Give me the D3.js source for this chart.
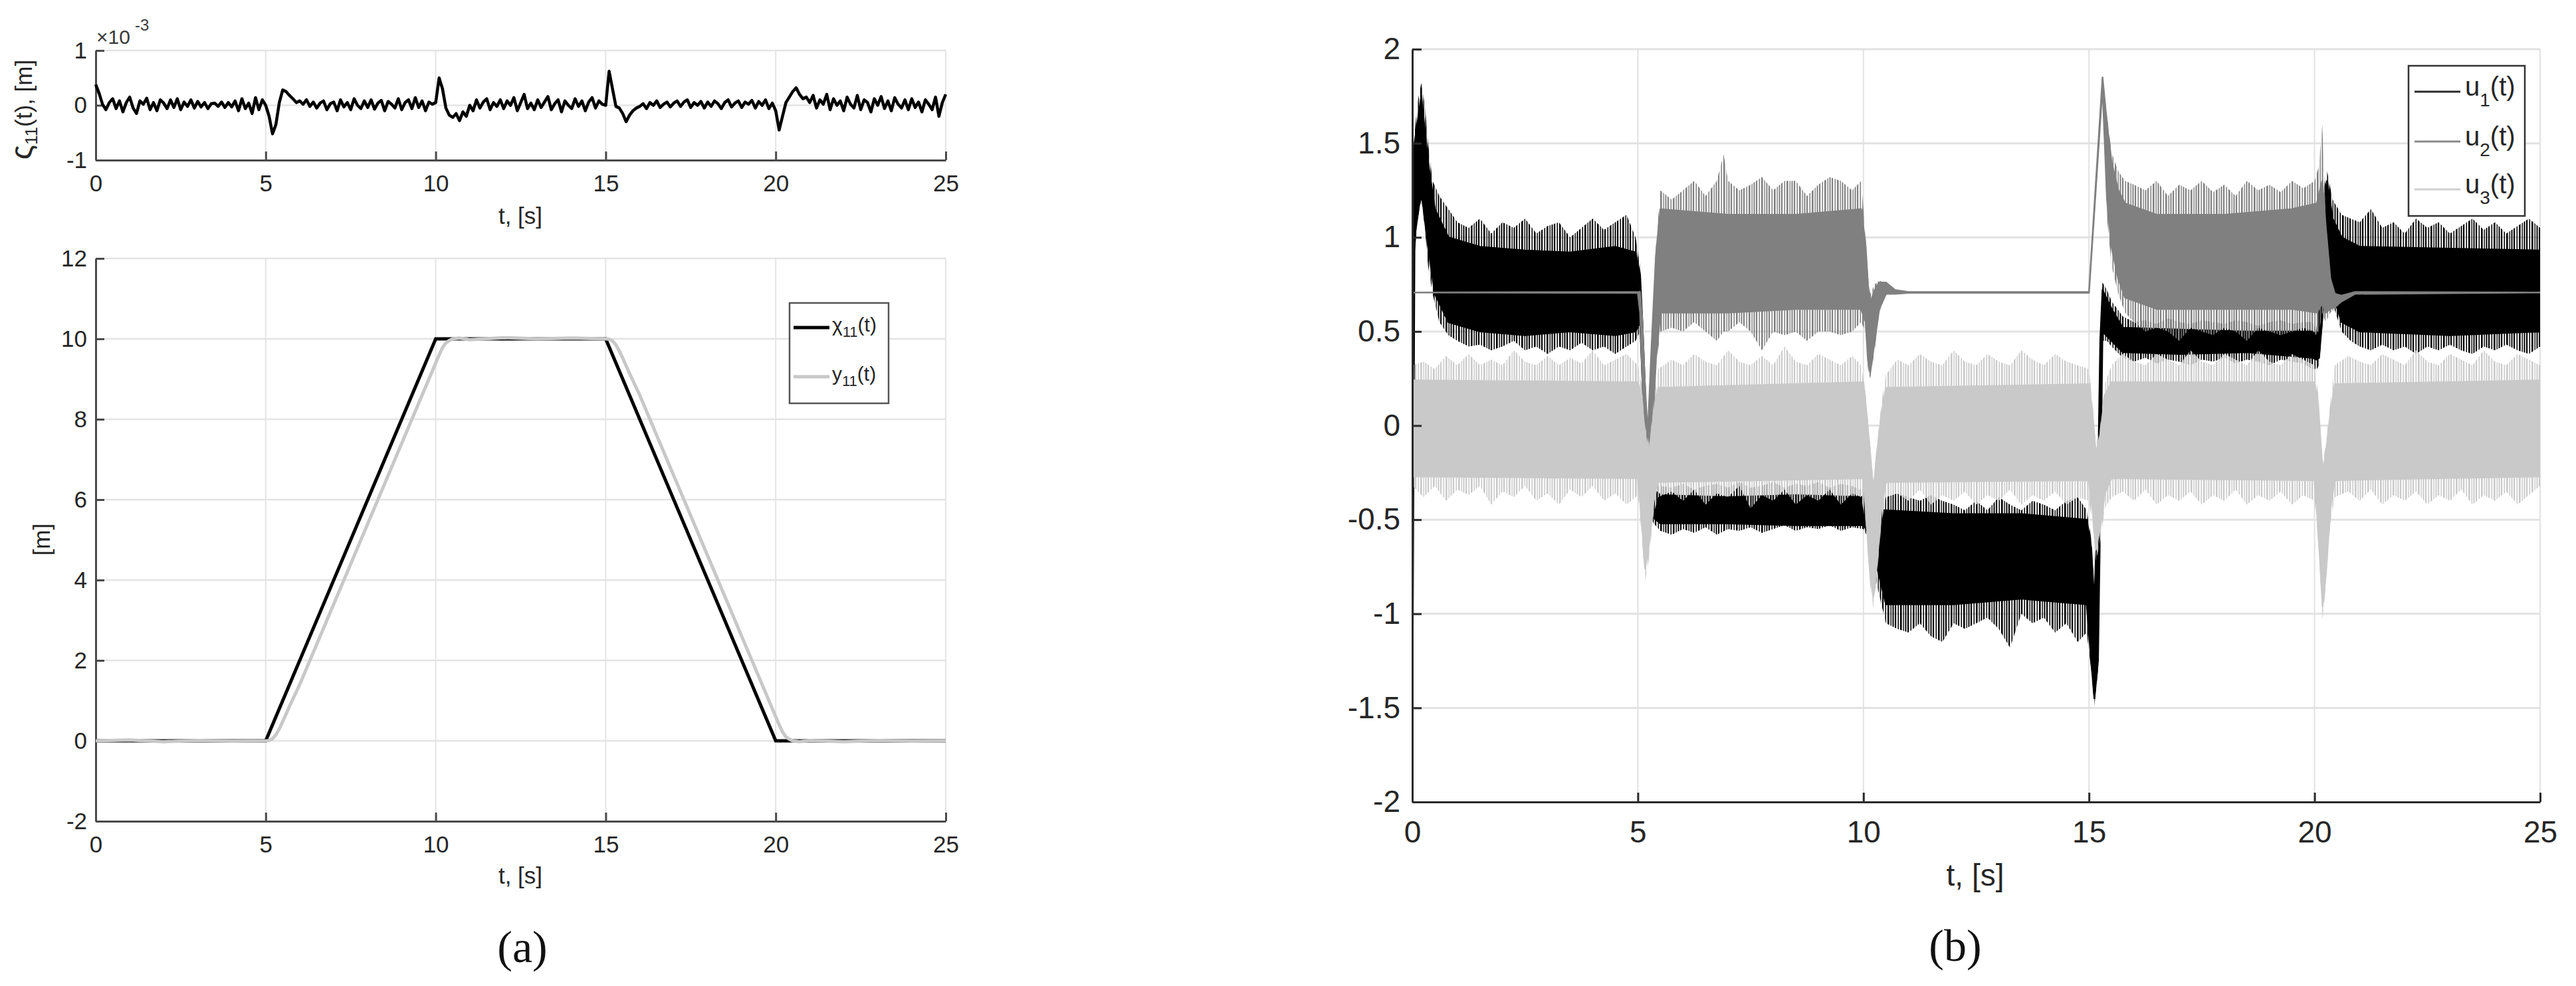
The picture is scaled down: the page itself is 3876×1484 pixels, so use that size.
<!DOCTYPE html>
<html><head><meta charset="utf-8">
<script src="https://cdn.jsdelivr.net/npm/d3@7"></script>
<style>body{margin:0;background:#fff}svg{display:block}</style>
</head><body>
<svg id="c" width="3876" height="1484"></svg>
<script>
// ---------------- DATA ----------------
const timeTicks = [0, 5, 10, 15, 20, 25];
const sigmaTicks = [-1, 0, 1];
const posTicks = [-2, 0, 2, 4, 6, 8, 10, 12];
const uTicks = [-2, -1.5, -1, -0.5, 0, 0.5, 1, 1.5, 2];

// sigma_11(t) in units of 1e-3 m, sampled every 0.1 s from t = 0 to 25
const sigmaStep = 0.1;
const sigmaV = [
 0.38,0.22,0.02,-0.08,0.05,0.12,-0.06,0.08,-0.12,0.05,
 0.15,-0.05,-0.15,0.08,0.02,0.13,-0.08,0.05,-0.1,0.1,
 0.04,-0.06,0.1,-0.04,0.12,-0.08,0.06,-0.02,0.1,-0.05,
 0.07,-0.03,0.05,-0.06,0.03,0.04,-0.02,0.06,-0.04,0.05,
 -0.03,0.08,-0.1,0.12,-0.06,0.04,-0.15,0.14,-0.08,0.1,
 0.0,-0.2,-0.52,-0.35,0.05,0.28,0.25,0.18,0.12,0.05,
 0.08,0.02,0.1,-0.02,0.06,-0.05,0.04,0.08,-0.08,0.03,
 0.06,-0.1,0.1,-0.03,0.05,-0.08,0.12,0.0,-0.06,0.08,
 -0.04,0.1,-0.07,0.04,0.09,-0.1,0.07,0.02,-0.05,0.12,
 -0.08,0.05,0.1,-0.06,0.14,-0.04,0.08,-0.1,0.06,0.02,
 0.05,0.5,0.3,-0.05,-0.18,-0.22,-0.15,-0.28,-0.12,-0.2,
 0.0,-0.1,0.1,-0.05,0.06,0.12,-0.08,0.05,-0.02,0.1,
 -0.06,0.08,0.0,0.14,-0.1,0.05,0.2,-0.06,0.04,-0.08,
 0.1,-0.04,0.06,0.16,-0.08,0.03,0.1,-0.12,0.08,0.0,
 -0.06,0.12,-0.02,0.08,-0.1,0.06,0.14,-0.05,0.08,0.02,
 0.0,0.62,0.3,-0.02,-0.05,-0.15,-0.3,-0.18,-0.1,-0.05,
 -0.02,0.03,-0.06,0.05,0.0,0.08,-0.04,0.02,0.06,-0.03,
 0.04,0.08,-0.02,0.06,0.1,-0.04,0.05,0.0,0.07,-0.05,
 0.06,-0.02,0.08,0.03,-0.06,0.05,0.1,-0.03,0.04,0.08,
 -0.04,0.06,0.02,0.09,-0.05,0.07,0.0,0.1,-0.06,0.04,
 -0.1,-0.45,-0.2,0.05,0.15,0.25,0.32,0.2,0.12,0.15,
 0.05,0.18,-0.05,0.1,0.02,0.2,-0.08,0.12,0.0,0.08,
 -0.1,0.15,0.02,-0.05,0.18,-0.08,0.1,0.05,-0.12,0.12,
 0.0,0.16,-0.06,0.08,-0.1,0.14,0.02,-0.05,0.1,-0.08,
 0.12,-0.04,0.06,-0.12,0.1,0.02,-0.08,0.15,-0.2,0.05,
 0.2
];

// chi_11(t) reference and y_11(t) output, [m]
const chiT = [0, 5, 10, 15, 20, 25];
const chiV = [0, 0, 10, 10, 0, 0];
const y11T = [0,1,2,3,4,5,5.1,5.2,5.3,5.4,5.5,5.7,6,7,8,9,10,10.1,10.2,10.3,10.4,10.5,10.7,11,12,13,14,15,15.1,15.2,15.3,15.4,15.5,15.7,16,17,18,19,20,20.1,20.2,20.3,20.4,20.5,20.7,21,22,23,24,25];
const y11V = [0,0.02,-0.02,0.01,-0.01,0,0.01,0.05,0.15,0.3,0.48,0.86,1.4,3.4,5.4,7.4,9.4,9.6,9.78,9.9,9.96,10.0,10.02,9.98,10.03,10.0,10.02,10.0,9.99,9.95,9.85,9.7,9.52,9.14,8.6,6.6,4.6,2.6,0.6,0.4,0.22,0.1,0.04,0.0,-0.02,0.01,-0.02,0.01,-0.01,0];

// control signals: [t, lowest spike, highest spike] of each noisy band
const u1Band = [
 [0,-1.66,-1.5],[0.015,-1.0,1.25],[0.05,0.9,1.55],[0.12,1.1,1.72],[0.2,1.2,1.82],[0.28,1.05,1.7],[0.35,0.85,1.5],[0.45,0.7,1.3],[0.6,0.55,1.22],[0.8,0.48,1.15],
 [1.0,0.45,1.08],[1.25,0.42,1.05],[1.5,0.43,1.1],[1.75,0.40,1.02],[2.0,0.42,1.08],[2.25,0.45,1.05],[2.5,0.40,1.1],[2.75,0.42,1.02],[3.0,0.38,1.06],[3.25,0.42,1.08],
 [3.5,0.40,1.0],[3.75,0.44,1.05],[4.0,0.40,1.1],[4.25,0.42,1.04],[4.5,0.38,1.08],[4.75,0.42,1.12],[4.95,0.45,1.0],[5.05,0.5,0.85],[5.1,0.2,0.6],[5.15,-0.1,0.3],
 [5.2,-0.4,-0.05],[5.25,-0.45,-0.2],[5.35,-0.52,-0.3],[5.5,-0.56,-0.32],[5.75,-0.58,-0.33],[6.0,-0.55,-0.31],[6.25,-0.57,-0.34],[6.5,-0.54,-0.32],[6.75,-0.58,-0.31],[7.0,-0.55,-0.33],
 [7.25,-0.56,-0.3],[7.5,-0.54,-0.33],[7.75,-0.57,-0.32],[8.0,-0.55,-0.3],[8.25,-0.53,-0.33],[8.5,-0.56,-0.31],[8.75,-0.54,-0.32],[9.0,-0.55,-0.3],[9.25,-0.53,-0.33],[9.5,-0.56,-0.31],
 [9.75,-0.54,-0.32],[10.0,-0.55,-0.35],[10.15,-0.62,-0.38],[10.3,-0.85,-0.4],[10.5,-1.05,-0.38],[10.75,-1.08,-0.36],[11.0,-1.1,-0.38],[11.25,-1.05,-0.4],[11.5,-1.12,-0.37],[11.75,-1.15,-0.4],
 [12.0,-1.05,-0.42],[12.25,-1.08,-0.45],[12.5,-1.05,-0.4],[12.75,-1.02,-0.45],[13.0,-1.08,-0.38],[13.25,-1.18,-0.42],[13.5,-1.0,-0.45],[13.75,-1.05,-0.4],[14.0,-1.02,-0.42],[14.25,-1.1,-0.45],
 [14.5,-1.05,-0.4],[14.75,-1.15,-0.38],[14.95,-1.1,-0.45],[15.05,-1.3,-0.6],[15.12,-1.49,-0.9],[15.2,-1.3,-0.2],[15.25,-0.5,0.5],[15.3,0.45,0.76],[15.4,0.45,0.72],[15.5,0.42,0.66],
 [15.75,0.36,0.58],[16.0,0.34,0.55],[16.25,0.36,0.56],[16.5,0.33,0.54],[16.75,0.35,0.57],[17.0,0.34,0.55],[17.25,0.32,0.54],[17.5,0.35,0.56],[17.75,0.34,0.55],[18.0,0.36,0.54],
 [18.25,0.33,0.56],[18.5,0.35,0.55],[18.75,0.34,0.53],[19.0,0.32,0.55],[19.25,0.35,0.56],[19.5,0.34,0.54],[19.75,0.33,0.55],[19.95,0.3,0.55],[20.05,0.3,0.5],[20.1,0.32,0.7],
 [20.2,0.6,1.25],[20.28,0.75,1.35],[20.4,0.65,1.2],[20.6,0.5,1.12],[20.8,0.45,1.1],[21.0,0.42,1.08],[21.25,0.4,1.15],[21.5,0.43,1.05],[21.75,0.4,1.08],[22.0,0.42,1.02],
 [22.25,0.38,1.1],[22.5,0.42,1.05],[22.75,0.4,1.08],[23.0,0.43,1.02],[23.25,0.4,1.06],[23.5,0.38,1.1],[23.75,0.42,1.04],[24.0,0.4,1.08],[24.25,0.43,1.02],[24.5,0.4,1.06],
 [24.75,0.38,1.1],[25.0,0.42,1.05]
];
// dense core of u1: [t, lower, upper]
const u1Core = [
 [0,-1.6,-1.5],[0.015,-0.9,1.2],[0.05,1.0,1.5],[0.2,1.25,1.75],[0.35,0.95,1.4],[0.5,0.7,1.15],[0.8,0.55,1.0],[1.5,0.5,0.95],[2.5,0.48,0.93],[3.5,0.5,0.92],
 [4.5,0.48,0.95],[4.95,0.5,0.92],[5.05,0.55,0.8],[5.1,0.25,0.55],[5.15,-0.05,0.25],[5.2,-0.35,-0.1],[5.3,-0.48,-0.33],[5.5,-0.52,-0.37],[7,-0.52,-0.38],[8.5,-0.53,-0.37],
 [10,-0.53,-0.38],[10.15,-0.58,-0.4],[10.3,-0.75,-0.45],[10.5,-0.95,-0.45],[12,-0.95,-0.47],[13.5,-0.92,-0.47],[14.95,-0.95,-0.5],[15.05,-1.25,-0.65],[15.12,-1.45,-0.95],[15.2,-1.25,-0.3],
 [15.25,-0.45,0.45],[15.3,0.5,0.72],[15.5,0.45,0.62],[15.75,0.39,0.52],[17,0.38,0.51],[18.5,0.39,0.5],[19.95,0.36,0.5],[20.05,0.35,0.47],[20.1,0.36,0.65],[20.2,0.65,1.2],
 [20.28,0.8,1.3],[20.4,0.7,1.1],[20.6,0.55,1.0],[21,0.5,0.95],[23,0.48,0.94],[25,0.5,0.93]
];
const u2Band = [
 [0,0.707,0.707],[5.0,0.70,0.71],[5.05,0.55,0.72],[5.1,0.2,0.6],[5.15,-0.2,0.3],[5.22,-0.36,0.0],[5.3,-0.2,0.45],[5.4,0.3,0.95],[5.5,0.5,1.25],[5.75,0.52,1.2],
 [6.0,0.5,1.25],[6.25,0.55,1.3],[6.5,0.5,1.22],[6.75,0.45,1.3],[6.9,0.5,1.44],[7.0,0.5,1.3],[7.25,0.55,1.25],[7.5,0.5,1.28],[7.75,0.4,1.32],[8.0,0.5,1.25],
 [8.25,0.48,1.3],[8.5,0.5,1.3],[8.75,0.45,1.22],[9.0,0.5,1.28],[9.25,0.5,1.32],[9.5,0.48,1.3],[9.75,0.5,1.25],[9.95,0.55,1.3],[10.05,0.5,1.0],[10.1,0.3,0.8],
 [10.15,0.25,0.7],[10.25,0.4,0.75],[10.35,0.6,0.77],[10.5,0.7,0.76],[10.7,0.7,0.72],[11.0,0.705,0.71],[15.0,0.705,0.71],[15.3,1.8,1.85],[15.4,1.1,1.65],[15.5,0.85,1.45],
 [15.65,0.7,1.35],[15.8,0.6,1.3],[16.0,0.55,1.28],[16.25,0.5,1.25],[16.5,0.52,1.3],[16.75,0.5,1.22],[17.0,0.45,1.28],[17.25,0.52,1.25],[17.5,0.5,1.3],[17.75,0.48,1.24],
 [18.0,0.52,1.28],[18.25,0.5,1.22],[18.5,0.45,1.3],[18.75,0.52,1.25],[19.0,0.5,1.28],[19.25,0.48,1.24],[19.5,0.5,1.3],[19.75,0.52,1.26],[20.0,0.5,1.3],[20.1,0.5,1.38],
 [20.17,0.6,1.6],[20.25,0.55,1.1],[20.35,0.6,0.8],[20.45,0.62,0.7],[20.6,0.66,0.69],[20.9,0.7,0.71],[25.0,0.707,0.707]
];
const u2Core = [
 [0,0.707,0.707],[5.0,0.705,0.71],[5.05,0.6,0.71],[5.1,0.25,0.55],[5.15,-0.15,0.25],[5.22,-0.3,-0.05],[5.3,-0.15,0.4],[5.4,0.35,0.9],[5.5,0.6,1.15],[7,0.6,1.12],
 [8.5,0.62,1.12],[9.95,0.62,1.15],[10.05,0.55,0.95],[10.1,0.35,0.75],[10.15,0.28,0.65],[10.25,0.45,0.72],[10.35,0.62,0.76],[10.5,0.7,0.76],[10.7,0.7,0.72],[11,0.705,0.71],
 [15,0.705,0.71],[15.3,1.8,1.85],[15.4,1.2,1.6],[15.5,0.95,1.4],[15.65,0.78,1.25],[15.8,0.68,1.18],[16.5,0.62,1.12],[18,0.62,1.12],[19.5,0.62,1.15],[20.05,0.6,1.18],
 [20.17,0.65,1.3],[20.25,0.6,1.05],[20.35,0.62,0.78],[20.45,0.63,0.7],[20.6,0.66,0.69],[20.9,0.7,0.71],[25,0.707,0.707]
];
const u3Band = [
 [0,-0.32,0.32],[0.25,-0.38,0.34],[0.5,-0.32,0.3],[0.75,-0.4,0.37],[1.0,-0.34,0.32],[1.25,-0.37,0.38],[1.5,-0.32,0.32],[1.75,-0.42,0.35],[2.0,-0.35,0.32],[2.25,-0.38,0.4],
 [2.5,-0.32,0.34],[2.75,-0.4,0.32],[3.0,-0.36,0.37],[3.25,-0.42,0.32],[3.5,-0.34,0.36],[3.75,-0.38,0.33],[4.0,-0.32,0.4],[4.25,-0.4,0.32],[4.5,-0.36,0.35],[4.75,-0.42,0.38],
 [5.0,-0.37,0.32],[5.08,-0.57,0.22],[5.16,-0.83,0.0],[5.25,-0.7,-0.1],[5.35,-0.47,0.12],[5.45,-0.38,0.3],[5.75,-0.35,0.35],[6.0,-0.4,0.32],[6.25,-0.34,0.38],[6.5,-0.42,0.34],
 [6.75,-0.36,0.32],[7.0,-0.38,0.4],[7.25,-0.32,0.34],[7.5,-0.44,0.32],[7.75,-0.37,0.37],[8.0,-0.4,0.32],[8.25,-0.34,0.42],[8.5,-0.42,0.34],[8.75,-0.37,0.32],[9.0,-0.4,0.38],
 [9.25,-0.34,0.35],[9.5,-0.42,0.32],[9.75,-0.36,0.37],[9.95,-0.38,0.32],[10.05,-0.52,0.17],[10.15,-0.85,-0.1],[10.22,-0.97,-0.3],[10.3,-0.8,-0.1],[10.4,-0.52,0.12],[10.5,-0.38,0.27],
 [10.75,-0.36,0.35],[11.0,-0.4,0.32],[11.25,-0.34,0.38],[11.5,-0.42,0.34],[11.75,-0.37,0.32],[12.0,-0.4,0.4],[12.25,-0.35,0.34],[12.5,-0.42,0.32],[12.75,-0.37,0.38],[13.0,-0.4,0.34],
 [13.25,-0.34,0.32],[13.5,-0.42,0.4],[13.75,-0.37,0.35],[14.0,-0.4,0.32],[14.25,-0.35,0.38],[14.5,-0.42,0.34],[14.75,-0.38,0.32],[15.0,-0.4,0.3],[15.08,-0.52,0.12],[15.15,-0.72,-0.1],
 [15.25,-0.62,0.0],[15.35,-0.44,0.22],[15.5,-0.38,0.32],[15.75,-0.35,0.38],[16.0,-0.4,0.34],[16.25,-0.34,0.32],[16.5,-0.42,0.38],[16.75,-0.37,0.35],[17.0,-0.4,0.32],[17.25,-0.35,0.4],
 [17.5,-0.42,0.34],[17.75,-0.37,0.32],[18.0,-0.4,0.38],[18.25,-0.34,0.35],[18.5,-0.42,0.32],[18.75,-0.37,0.4],[19.0,-0.4,0.34],[19.25,-0.35,0.32],[19.5,-0.42,0.38],[19.75,-0.37,0.35],
 [20.0,-0.4,0.32],[20.08,-0.62,0.17],[20.18,-1.03,-0.2],[20.25,-0.85,-0.1],[20.35,-0.52,0.12],[20.45,-0.38,0.32],[20.75,-0.35,0.37],[21.0,-0.4,0.34],[21.25,-0.34,0.32],[21.5,-0.42,0.38],
 [21.75,-0.37,0.35],[22.0,-0.4,0.32],[22.25,-0.35,0.4],[22.5,-0.42,0.34],[22.75,-0.37,0.32],[23.0,-0.4,0.38],[23.25,-0.34,0.35],[23.5,-0.42,0.32],[23.75,-0.37,0.4],[24.0,-0.4,0.34],
 [24.25,-0.35,0.32],[24.5,-0.42,0.38],[24.75,-0.37,0.35],[25.0,-0.32,0.32]
];
const u3Core = [
 [0,-0.27,0.24],[5.0,-0.28,0.23],[5.08,-0.48,0.14],[5.16,-0.76,-0.05],[5.25,-0.62,-0.15],[5.35,-0.4,0.06],[5.45,-0.3,0.2],[10,-0.28,0.23],[10.05,-0.44,0.11],[10.15,-0.79,-0.15],
 [10.22,-0.91,-0.35],[10.3,-0.73,-0.15],[10.4,-0.44,0.06],[10.5,-0.3,0.2],[15,-0.29,0.22],[15.08,-0.44,0.06],[15.15,-0.66,-0.15],[15.25,-0.54,-0.05],[15.35,-0.36,0.16],[15.5,-0.28,0.23],
 [20,-0.29,0.23],[20.08,-0.54,0.11],[20.18,-0.96,-0.25],[20.25,-0.79,-0.15],[20.35,-0.44,0.06],[20.45,-0.29,0.22],[25,-0.27,0.24]
];
const uSeries = [
  {name: "1", band: u1Band, core: u1Core, color: "#000000", legend: "#2b2b2b"},
  {name: "2", band: u2Band, core: u2Core, color: "#808080", legend: "#8a8a8a"},
  {name: "3", band: u3Band, core: u3Core, color: "#c9c9c9", legend: "#cfcfcf"}
];

// ---------------- DRAWING ----------------
const FONT = "'Liberation Sans', Arial, Helvetica, sans-serif";
const SERIF = "'Liberation Serif', 'DejaVu Serif', serif";
const svg = d3.select("#c");
svg.append("rect").attr("width", 3876).attr("height", 1484).attr("fill", "#fff");
const defs = svg.append("defs");

function drawGrid(g, x, y, xt, yt, o) {
  const [y0, y1] = y.range(), [x0, x1] = x.range();
  g.append("g").selectAll("line").data(xt.filter(d => d !== x.domain()[0])).join("line")
    .attr("x1", d => x(d)).attr("x2", d => x(d)).attr("y1", y0).attr("y2", y1)
    .attr("stroke", o.gridColor).attr("stroke-width", o.gridWV);
  g.append("g").selectAll("line").data(yt.filter(d => d !== y.domain()[0])).join("line")
    .attr("x1", x0).attr("x2", x1).attr("y1", d => y(d)).attr("y2", d => y(d))
    .attr("stroke", o.gridColor).attr("stroke-width", o.gridWH);
}

function drawAxes(g, x, y, xt, yt, o) {
  const xa = d3.axisBottom(x).tickValues(xt).tickSizeInner(-o.tick).tickSizeOuter(0)
    .tickPadding(o.padX).tickFormat(d => String(d));
  const ya = d3.axisLeft(y).tickValues(yt).tickSizeInner(-o.tick).tickSizeOuter(0)
    .tickPadding(o.padY).tickFormat(d => String(d));
  const gx = g.append("g").attr("transform", `translate(0,${y.range()[0]})`).call(xa);
  const gy = g.append("g").attr("transform", `translate(${x.range()[0]},0)`).call(ya);
  [gx, gy].forEach(a => {
    a.select(".domain").attr("stroke", o.axisColor).attr("stroke-width", o.axisW);
    a.selectAll(".tick line").attr("stroke", o.axisColor).attr("stroke-width", o.axisW);
    a.selectAll(".tick text").attr("font-size", o.fs).attr("fill", "#262626")
      .attr("font-family", FONT);
  });
}

// ---------- Panel (a), top: sigma_11 ----------
const xA = d3.scaleLinear().domain([0, 25]).range([144, 1423]);
const yS = d3.scaleLinear().domain([-1, 1]).range([241, 76]);
const gS = svg.append("g");
const optA = {gridColor: "#e4e4e4", gridWV: 2, gridWH: 2.5, axisColor: "#4a4a4a", axisW: 3, tick: 13, fs: 35, padX: 22, padY: 13};
drawGrid(gS, xA, yS, timeTicks, sigmaTicks, optA);
drawAxes(gS, xA, yS, timeTicks, sigmaTicks, optA);
const sigmaData = sigmaV.map((v, i) => ({t: i * sigmaStep, v}));
gS.append("path").datum(sigmaData)
  .attr("d", d3.line().x(d => xA(d.t)).y(d => yS(d.v)))
  .attr("fill", "none").attr("stroke", "#000").attr("stroke-width", 4.5)
  .attr("stroke-linejoin", "round");
gS.append("text").attr("x", 145).attr("y", 66).attr("font-family", FONT)
  .attr("font-size", 30).attr("fill", "#3a3a3a").text("×10");
gS.append("text").attr("x", 203).attr("y", 46).attr("font-family", FONT)
  .attr("font-size", 24).attr("fill", "#3a3a3a").text("-3");
gS.append("text").attr("x", 783).attr("y", 337).attr("text-anchor", "middle")
  .attr("font-family", FONT).attr("font-size", 35).attr("fill", "#262626").text("t, [s]");
const sLab = gS.append("text").attr("transform", "translate(48,165) rotate(-90)")
  .attr("text-anchor", "middle").attr("font-family", FONT).attr("font-size", 35).attr("fill", "#262626");
sLab.append("tspan").attr("font-size", 46).text("ς");
sLab.append("tspan").attr("font-size", 26).attr("dy", 8).text("11");
sLab.append("tspan").attr("dy", -8).text("(t), [m]");

// ---------- Panel (a), bottom: chi_11 and y_11 ----------
const yP = d3.scaleLinear().domain([-2, 12]).range([1236, 389]);
const gP = svg.append("g");
drawGrid(gP, xA, yP, timeTicks, posTicks, optA);
drawAxes(gP, xA, yP, timeTicks, posTicks, optA);
const lineP = d3.line().x(d => xA(d[0])).y(d => yP(d[1]));
gP.append("path").datum(chiT.map((t, i) => [t, chiV[i]])).attr("d", lineP)
  .attr("fill", "none").attr("stroke", "#000").attr("stroke-width", 5);
gP.append("path").datum(y11T.map((t, i) => [t, y11V[i]])).attr("d", lineP)
  .attr("fill", "none").attr("stroke", "#c8c8c8").attr("stroke-width", 5);
gP.append("text").attr("x", 783).attr("y", 1330).attr("text-anchor", "middle")
  .attr("font-family", FONT).attr("font-size", 35).attr("fill", "#262626").text("t, [s]");
gP.append("text").attr("transform", "translate(75,812) rotate(-90)")
  .attr("text-anchor", "middle").attr("font-family", FONT).attr("font-size", 35)
  .attr("fill", "#262626").text("[m]");
// legend (a)
const legA = gP.append("g");
legA.append("rect").attr("x", 1188).attr("y", 456).attr("width", 149).attr("height", 151)
  .attr("fill", "#fff").attr("stroke", "#555").attr("stroke-width", 2.5);
[["χ", "#000", 493], ["y", "#c8c8c8", 567]].forEach(([s, c, yy]) => {
  legA.append("line").attr("x1", 1194).attr("x2", 1248).attr("y1", yy).attr("y2", yy)
    .attr("stroke", c).attr("stroke-width", 5);
  const t = legA.append("text").attr("x", 1252).attr("y", yy + 6).attr("font-family", FONT)
    .attr("font-size", 30).attr("fill", "#262626");
  t.append("tspan").text(s);
  t.append("tspan").attr("font-size", 22).attr("dy", 8).text("11");
  t.append("tspan").attr("dy", -8).text("(t)");
});

// ---------- Panel (b): u_1, u_2, u_3 ----------
const xB = d3.scaleLinear().domain([0, 25]).range([2125, 3822]);
const yB = d3.scaleLinear().domain([-2, 2]).range([1207, 74]);
const gB = svg.append("g");
const optB = {gridColor: "#e2e2e2", gridWV: 2, gridWH: 3, axisColor: "#2a2a2a", axisW: 3, tick: 14, fs: 46, padX: 28, padY: 18};
drawGrid(gB, xB, yB, timeTicks, uTicks, optB);
svg.append("clipPath").attr("id", "clipB").append("rect")
  .attr("x", 2125).attr("y", 74).attr("width", 3822 - 2125).attr("height", 1207 - 74);
// vertical-hatch patterns to render the sparse noise spikes around each dense core
uSeries.forEach(s => {
  const p = defs.append("pattern").attr("id", "hatch" + s.name)
    .attr("patternUnits", "userSpaceOnUse").attr("width", 19).attr("height", 40);
  [[1, 2.2], [5.5, 1.6], [9, 2.6], [13.5, 1.4], [16.5, 2.0]].forEach(([px, w]) => {
    p.append("rect").attr("x", px).attr("y", 0).attr("width", w).attr("height", 40).attr("fill", s.color);
  });
});
const areaB = d3.area().x(d => xB(d[0])).y0(d => yB(d[1])).y1(d => yB(d[2]));
const gData = gB.append("g").attr("clip-path", "url(#clipB)");
uSeries.forEach(s => {
  gData.append("path").datum(s.band).attr("d", areaB)
    .attr("fill", `url(#hatch${s.name})`).attr("stroke", "none");
  gData.append("path").datum(s.core).attr("d", areaB)
    .attr("fill", s.color).attr("stroke", s.color).attr("stroke-width", 2.5)
    .attr("stroke-linejoin", "round");
});
drawAxes(gB, xB, yB, timeTicks, uTicks, optB);
gB.append("text").attr("x", 2972).attr("y", 1333).attr("text-anchor", "middle")
  .attr("font-family", FONT).attr("font-size", 46).attr("fill", "#262626").text("t, [s]");
// legend (b)
const legB = gB.append("g");
legB.append("rect").attr("x", 3624).attr("y", 99).attr("width", 175).attr("height", 226)
  .attr("fill", "#fff").attr("stroke", "#333").attr("stroke-width", 2.5);
[[uSeries[0], 138], [uSeries[1], 213], [uSeries[2], 285]].forEach(([s, yy]) => {
  legB.append("line").attr("x1", 3633).attr("x2", 3702).attr("y1", yy).attr("y2", yy)
    .attr("stroke", s.legend).attr("stroke-width", 3);
  const t = legB.append("text").attr("x", 3709).attr("y", yy + 6).attr("font-family", FONT)
    .attr("font-size", 40).attr("fill", "#262626");
  t.append("tspan").text("u");
  t.append("tspan").attr("font-size", 28).attr("dy", 16).text(s.name);
  t.append("tspan").attr("dy", -16).text("(t)");
});

// ---------- captions ----------
svg.append("text").attr("x", 786).attr("y", 1448).attr("text-anchor", "middle")
  .attr("font-family", SERIF).attr("font-size", 68).attr("fill", "#111").text("(a)");
svg.append("text").attr("x", 2942).attr("y", 1446).attr("text-anchor", "middle")
  .attr("font-family", SERIF).attr("font-size", 68).attr("fill", "#111").text("(b)");
</script>
</body></html>
